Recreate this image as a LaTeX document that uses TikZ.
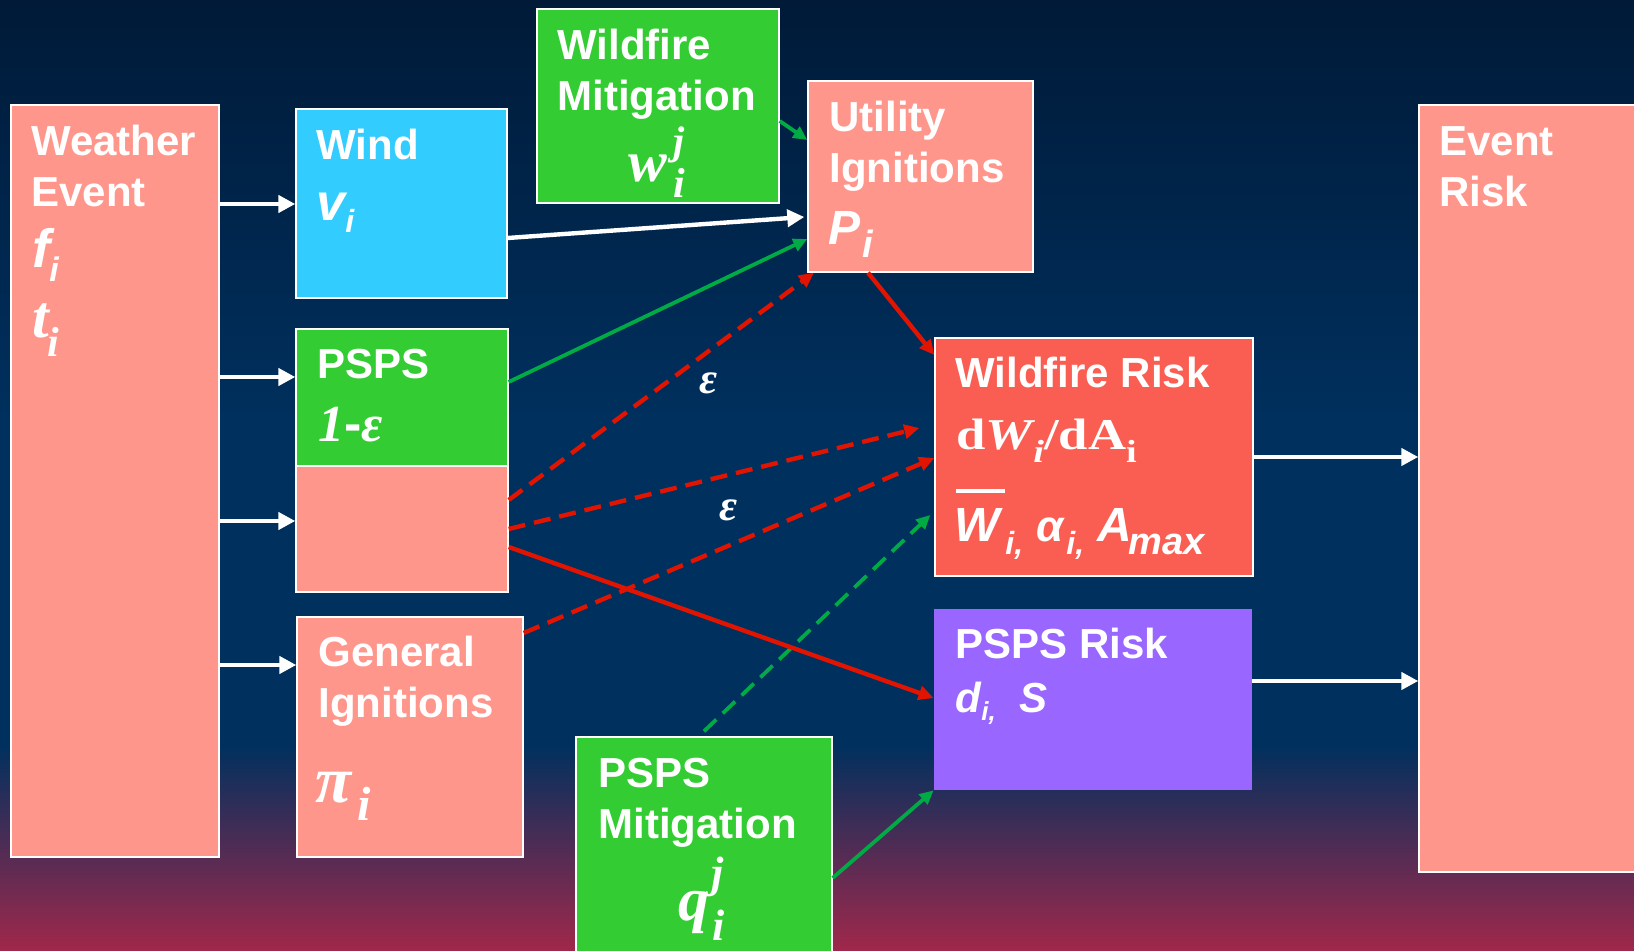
\documentclass[tikz,border=0pt]{standalone}
\usepackage{fontspec}
\setmainfont{Liberation Sans}
\newfontfamily\lsans{Liberation Sans}
\newfontfamily\lserif{Liberation Serif}
\usetikzlibrary{arrows.meta,fit,calc}
\newcommand\fSBI[1]{\lsans\bfseries\itshape\fontsize{#1}{#1}\selectfont}
\newcommand\fSerI[1]{\lserif\itshape\fontsize{#1}{#1}\selectfont}
\newcommand\fSerBI[1]{\lserif\bfseries\itshape\fontsize{#1}{#1}\selectfont}
\definecolor{bgtop}{RGB}{0,26,56}
\definecolor{bgmid}{RGB}{0,48,94}
\definecolor{bgbot}{RGB}{160,40,75}
\definecolor{pinkbox}{RGB}{255,150,140}
\definecolor{windbox}{RGB}{51,204,255}
\definecolor{greenbox}{RGB}{51,204,51}
\definecolor{riskbox}{RGB}{250,94,82}
\definecolor{purplebox}{RGB}{153,102,255}
\definecolor{redline}{RGB}{224,20,0}
\definecolor{greenline}{RGB}{0,170,68}
\tikzset{
 box/.style={draw=white, line width=0.7pt, inner sep=0pt, fill=#1},
 nbox/.style={draw=none, inner sep=0pt, fill=#1},
 lbl/.style={anchor=base west, inner sep=0pt, text=white, font=\lsans\bfseries\fontsize{21}{25}\selectfont},
 mth/.style={anchor=base west, inner sep=0pt, text=white},
 warr/.style={draw=white, line width=2.2pt, -{Triangle[length=8.5pt,width=8.5pt]}},
 rarr/.style={draw=redline, line width=2.2pt, -{Triangle[length=7.5pt,width=7pt]}},
 garr/.style={draw=greenline, line width=1.9pt, -{Triangle[length=7pt,width=6.5pt]}},
 dsh/.style={dash pattern=on 8.5pt off 4.5pt},
}
\begin{document}
\begin{tikzpicture}[x=0.5pt,y=-0.5pt]
\useasboundingbox (0,0) rectangle (1634,951);
\clip (0,0) rectangle (1634,951);
% background
\shade[top color=bgtop,bottom color=bgmid] (0,0) rectangle (1634,421);
\fill[bgmid] (0,420) rectangle (1634,746);
\shade[top color=bgmid,bottom color=bgbot] (0,745) rectangle (1634,951);
% boxes
\node[box=pinkbox, fit={(11,105)(219,857)}] (we) {};
\node[box=windbox, fit={(296,109)(507,298)}] (wind) {};
\node[box=greenbox, fit={(537,9)(779,203)}] (wfm) {};
\node[box=pinkbox, fit={(808,81)(1033,272)}] (ui) {};
\node[box=greenbox, fit={(296,329)(508,466)}] (psps) {};
\node[box=pinkbox, fit={(296,466)(508,592)}] (pspsb) {};
\node[box=pinkbox, fit={(297,617)(523,857)}] (gi) {};
\node[box=riskbox, fit={(935,338)(1253,576)}] (wr) {};
\node[nbox=purplebox, fit={(934,609)(1252,790)}] (pr) {};
\node[box=greenbox, fit={(576,737)(832,975)}] (pm) {};
\node[box=pinkbox, fit={(1419,105)(1660,872)}] (er) {};
% Weather Event
\node[lbl] (tWe1) at (31,156) {Weather};
\node[lbl] (tWe2) at (31,207) {Event};
\node[mth, font={\fSBI{27}}] (tf) at (32,268) {f};
\node[mth, font={\fSBI{17}}] (tfi) at (49,282) {i};
\node[mth, font={\fSerBI{30}}] (tt) at (32,338) {t};
\node[mth, font={\fSerBI{21}}] (tti) at (47,357) {i};
% Wind
\node[lbl] (tWind) at (316,160) {Wind};
\node[mth, font={\fSBI{26}}] (tv) at (316,221) {v};
\node[mth, font={\fSBI{16}}] (tvi) at (345,233) {i};
% Wildfire Mitigation
\node[lbl] (tWm1) at (557,60) {Wildfire};
\node[lbl] (tWm2) at (557,111) {Mitigation};
\node[mth, font={\fSerBI{29}}] (tw) at (628,182) {w};
\node[mth, font={\fSerBI{20}}] (twj) at (673,155) {j};
\node[mth, font={\fSerBI{21}}] (twi) at (673,198) {i};
% Utility Ignitions
\node[lbl] (tUi1) at (829,132) {Utility};
\node[lbl] (tUi2) at (829,183) {Ignitions};
\node[mth, font={\fSBI{24}}] (tP) at (828,245) {P};
\node[mth, font={\fSBI{19}}] (tPi) at (862,258) {i};
% PSPS
\node[lbl] (tPs) at (317,379) {PSPS};
\node[mth, font={\fontsize{26}{26}\selectfont}] (teps) at (318,442) {{\lserif\bfseries\itshape 1}{\lsans\bfseries -}{\lserif\bfseries\itshape ε}};
% General Ignitions
\node[lbl] (tGi1) at (318,667) {General};
\node[lbl] (tGi2) at (318,718) {Ignitions};
\node[mth, font={\fSerBI{33}}] (tpi) at (315,802) {π};
\node[mth, font={\fSerBI{24}}] (tpii) at (357,820) {i};
% PSPS Mitigation
\node[lbl] (tPm1) at (598,787) {PSPS};
\node[lbl] (tPm2) at (598,838) {Mitigation};
\node[mth, font={\fSerBI{31}}] (tq) at (678,920) {q};
\node[mth, font={\fSerBI{22}}] (tqj) at (711,887) {j};
\node[mth, font={\fSerBI{22}}] (tqi) at (712,940) {i};
% Wildfire Risk
\node[lbl] (tWr) at (955,388) {Wildfire Risk};
\node[mth, font={\lserif\bfseries\fontsize{22}{22}\selectfont}] (tdw) at (956,450)
  {\scalebox{1.2}[1]{d\textit{W}\kern-1pt\raisebox{-6.5pt}{\fontsize{16}{16}\selectfont\textit{i}}/dA\raisebox{-6.5pt}{\fontsize{16}{16}\selectfont i}}};
\draw[white, line width=2pt] (956,491) -- (1005,491);
\node[mth, font={\fSBI{24}}] (tW) at (954,542) {W};
\node[mth, font={\fSBI{16}}] (tWi) at (1005,555) {i,};
\node[mth, font={\fSBI{22}}] (tal) at (1036,542) {α};
\node[mth, font={\fSBI{16}}] (tali) at (1066,555) {i,};
\node[mth, font={\fSBI{24}}] (tA) at (1097,542) {A};
\node[mth, font={\fSBI{19}}] (tAm) at (1128,555) {max};
% PSPS Risk
\node[lbl] (tPr) at (955,659) {PSPS Risk};
\node[mth, font={\fSBI{21}}] (td) at (955,712) {d};
\node[mth, font={\fSBI{13}}] (tdi) at (981,721) {i,};
\node[mth, font={\fSBI{21}}] (tS) at (1019,712) {S};
% Event Risk
\node[lbl] (tEr1) at (1439,156) {Event};
\node[lbl] (tEr2) at (1439,207) {Risk};
% epsilon labels
\node[inner sep=0pt, text=white, font={\fSerBI{22}}] (eps1) at (709,383) {ε};
\node[inner sep=0pt, text=white, font={\fSerBI{22}}] (eps2) at (729,510) {ε};
% white connectors
\draw[warr] (we.east |- 0,204) -- (wind.west |- 0,204);
\draw[warr] (we.east |- 0,377) -- (psps.west |- 0,377);
\draw[warr] (we.east |- 0,521) -- (pspsb.west |- 0,521);
\draw[warr] (we.east |- 0,665) -- (gi.west |- 0,665);
\draw[warr] (wind.east |- 0,238) -- ($(ui.west |- 0,217)+(-3,0)$);
\draw[warr] (wr.east |- 0,457) -- (er.west |- 0,457);
\draw[warr] (pr.east |- 0,681) -- (er.west |- 0,681);
% green connectors
\draw[garr] (wfm.east |- 0,121) -- (ui.west |- 0,140);
\draw[garr] (psps.east |- 0,382) -- (ui.west |- 0,239);
\draw[garr] (pm.east |- 0,878) -- (pr.south west);
\draw[garr, dsh] ($(pm.north -| 704,0)+(0,-5)$) -- ($(wr.west |- 0,515)+(-4,0)$);
% red connectors
\draw[rarr] (ui.south -| 868,0) -- (wr.west |- 0,355);
\draw[rarr] (pspsb.east |- 0,547) -- (pr.west |- 0,698);
\draw[rarr, dsh] (pspsb.east |- 0,500) -- (ui.south -| 814,0);
\draw[rarr, dsh] (pspsb.east |- 0,529) -- ($(wr.west |- 0,428)+(-15,0)$);
\draw[rarr, dsh] (gi.east |- 0,633) -- (wr.west |- 0,458);
\end{tikzpicture}
\end{document}
